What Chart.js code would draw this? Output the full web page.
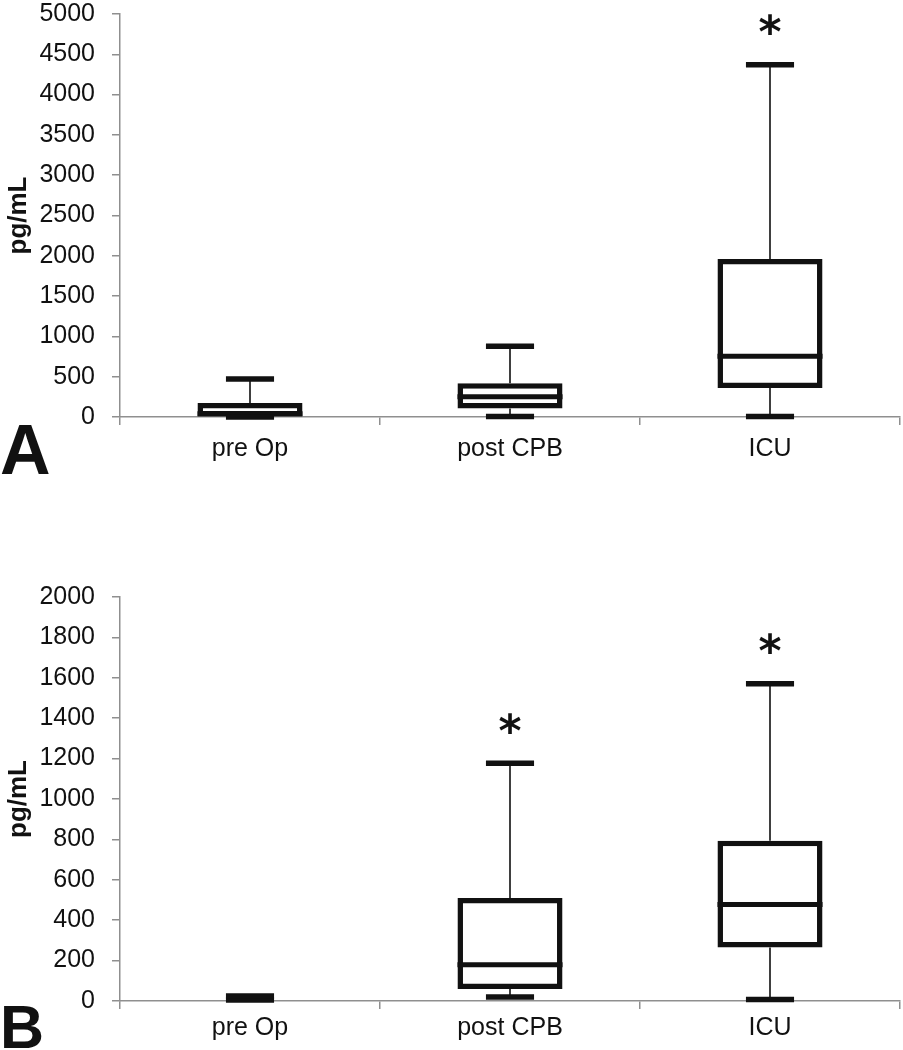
<!DOCTYPE html>
<html lang="en">
<head>
<meta charset="UTF-8">
<title>pg/mL box plots</title>
<script src="https://cdn.jsdelivr.net/npm/chart.js"></script>
<style>
  body {
    margin: 0;
    background: #fff;
    width: 903px;
    height: 1050px;
    position: relative;
    overflow: hidden;
    font-family: "Liberation Sans", Arial, sans-serif;
  }
  canvas { position: absolute; left: 0; }
  #chartA { top: -18px; }
  #chartB { top: 565px; }
  .letter {
    position: absolute;
    left: 0;
    font-weight: bold;
    color: #111;
    line-height: normal;
  }
</style>
</head>
<body>

<canvas id="chartA" width="903" height="528"></canvas>
<canvas id="chartB" width="903" height="485"></canvas>
<div class="letter" style="top:410px; font-size:70px;">A</div>
<div class="letter" style="top:992px; font-size:61px;">B</div>

<script>
  const categories = ['pre Op', 'post CPB', 'ICU'];

  // panel A (pg/mL)
  const aMin    = [0, 5, 5];
  const aQ1     = [5, 107, 360];
  const aMedian = [40, 250, 755];
  const aQ3     = [175, 420, 1960];
  const aMax    = [470, 877, 4370];
  const aStar   = [false, false, true];
  const aAxisMax = 5000, aStep = 500;

  // panel B (pg/mL)
  const bMin    = [5, 20, 8];
  const bQ1     = [10, 60, 265];
  const bMedian = [10, 180, 478];
  const bQ3     = [10, 510, 793];
  const bMax    = [25, 1177, 1571];
  const bStar   = [false, true, true];
  const bAxisMax = 2000, bStep = 200;

  const INK = '#111';
  const AXIS = '#8f8f8f';
  const BOX_FRAC = 0.404;   // box width / category width
  const CAP_FRAC = 0.185;   // whisker cap width / category width

  function boxPlugin(mins, q1s, meds, q3s, maxs, stars) {
    function geom(chart) {
      const x = chart.scales.x, y = chart.scales.y;
      const catW = x.getPixelForValue(1) - x.getPixelForValue(0);
      return { x, y, catW };
    }
    return {
      id: 'boxWhiskers',
      beforeDatasetsDraw(chart) {
        const { x, y } = geom(chart);
        const ctx = chart.ctx;
        ctx.save();
        ctx.strokeStyle = INK;
        ctx.lineWidth = 1.6;
        categories.forEach((c, i) => {
          const cx = x.getPixelForValue(i);
          ctx.beginPath();
          ctx.moveTo(cx, y.getPixelForValue(q3s[i]));
          ctx.lineTo(cx, y.getPixelForValue(maxs[i]));
          ctx.moveTo(cx, y.getPixelForValue(q1s[i]));
          ctx.lineTo(cx, y.getPixelForValue(mins[i]));
          ctx.stroke();
        });
        ctx.restore();
      },
      afterDatasetsDraw(chart) {
        const { x, y, catW } = geom(chart);
        const ctx = chart.ctx;
        ctx.save();
        ctx.strokeStyle = INK;
        ctx.fillStyle = INK;
        ctx.lineCap = 'butt';
        categories.forEach((c, i) => {
          const cx = x.getPixelForValue(i);
          const bw = catW * BOX_FRAC;
          const cw = catW * CAP_FRAC;
          if (q3s[i] > q1s[i]) {
            ctx.lineWidth = 5;
            const my = y.getPixelForValue(meds[i]);
            ctx.beginPath();
            ctx.moveTo(cx - bw / 2, my);
            ctx.lineTo(cx + bw / 2, my);
            ctx.stroke();
          }
          ctx.lineWidth = 5.5;
          [mins[i], maxs[i]].forEach(v => {
            const py = y.getPixelForValue(v);
            ctx.beginPath();
            ctx.moveTo(cx - cw / 2, py);
            ctx.lineTo(cx + cw / 2, py);
            ctx.stroke();
          });
          if (stars[i]) {
            ctx.font = 'bold 44px "DejaVu Sans", sans-serif';
            ctx.textAlign = 'center';
            ctx.textBaseline = 'alphabetic';
            const m = ctx.measureText('*');
            const h = m.actualBoundingBoxAscent - m.actualBoundingBoxDescent;
            const centerY = y.getPixelForValue(maxs[i]) - 28;
            ctx.fillText('*', cx, centerY + m.actualBoundingBoxAscent - h / 2);
          }
        });
        ctx.restore();
      }
    };
  }

  function makeChart(id, mins, q1s, meds, q3s, maxs, stars, axisMax, step, xHeight, labelPad) {
    const boxes = categories.map((c, i) => q3s[i] > q1s[i] ? [q1s[i], q3s[i]] : null);
    return new Chart(document.getElementById(id), {
      type: 'bar',
      data: {
        labels: categories,
        datasets: [{
          data: boxes,
          backgroundColor: '#fff',
          borderColor: INK,
          borderWidth: 5.5,
          borderSkipped: false,
          barPercentage: BOX_FRAC,
          categoryPercentage: 1
        }]
      },
      options: {
        responsive: false,
        animation: false,
        layout: { padding: { top: 0, right: 3, left: 0, bottom: 0 } },
        plugins: { legend: { display: false }, tooltip: { enabled: false } },
        scales: {
          x: {
            grid: { display: true, drawOnChartArea: false, drawTicks: true, tickLength: 8, color: AXIS, lineWidth: 1.5, offset: true },
            border: { display: true, color: AXIS, width: 1.5 },
            ticks: { color: INK, font: { family: '"Liberation Sans", Arial, sans-serif', size: 25 }, padding: labelPad },
            afterFit: s => { s.height = xHeight; }
          },
          y: {
            min: 0,
            max: axisMax,
            grid: { display: true, drawOnChartArea: false, drawTicks: true, tickLength: 8, color: AXIS, lineWidth: 1.5 },
            border: { display: true, color: AXIS, width: 1.5 },
            ticks: {
              stepSize: step,
              color: INK,
              font: { family: '"Liberation Sans", Arial, sans-serif', size: 25 },
              padding: 17,
              callback: v => String(v)
            },
            title: { display: true, text: 'pg/mL', color: INK, font: { family: '"Liberation Sans", Arial, sans-serif', size: 26, weight: 'bold' }, padding: { top: 3, bottom: 0 } },
            afterFit: s => { s.width = 120; }
          }
        }
      },
      plugins: [boxPlugin(mins, q1s, meds, q3s, maxs, stars)]
    });
  }

  makeChart('chartA', aMin, aQ1, aMedian, aQ3, aMax, aStar, aAxisMax, aStep, 93, 9);
  makeChart('chartB', bMin, bQ1, bMedian, bQ3, bMax, bStar, bAxisMax, bStep, 49, 4);
</script>
</body>
</html>
